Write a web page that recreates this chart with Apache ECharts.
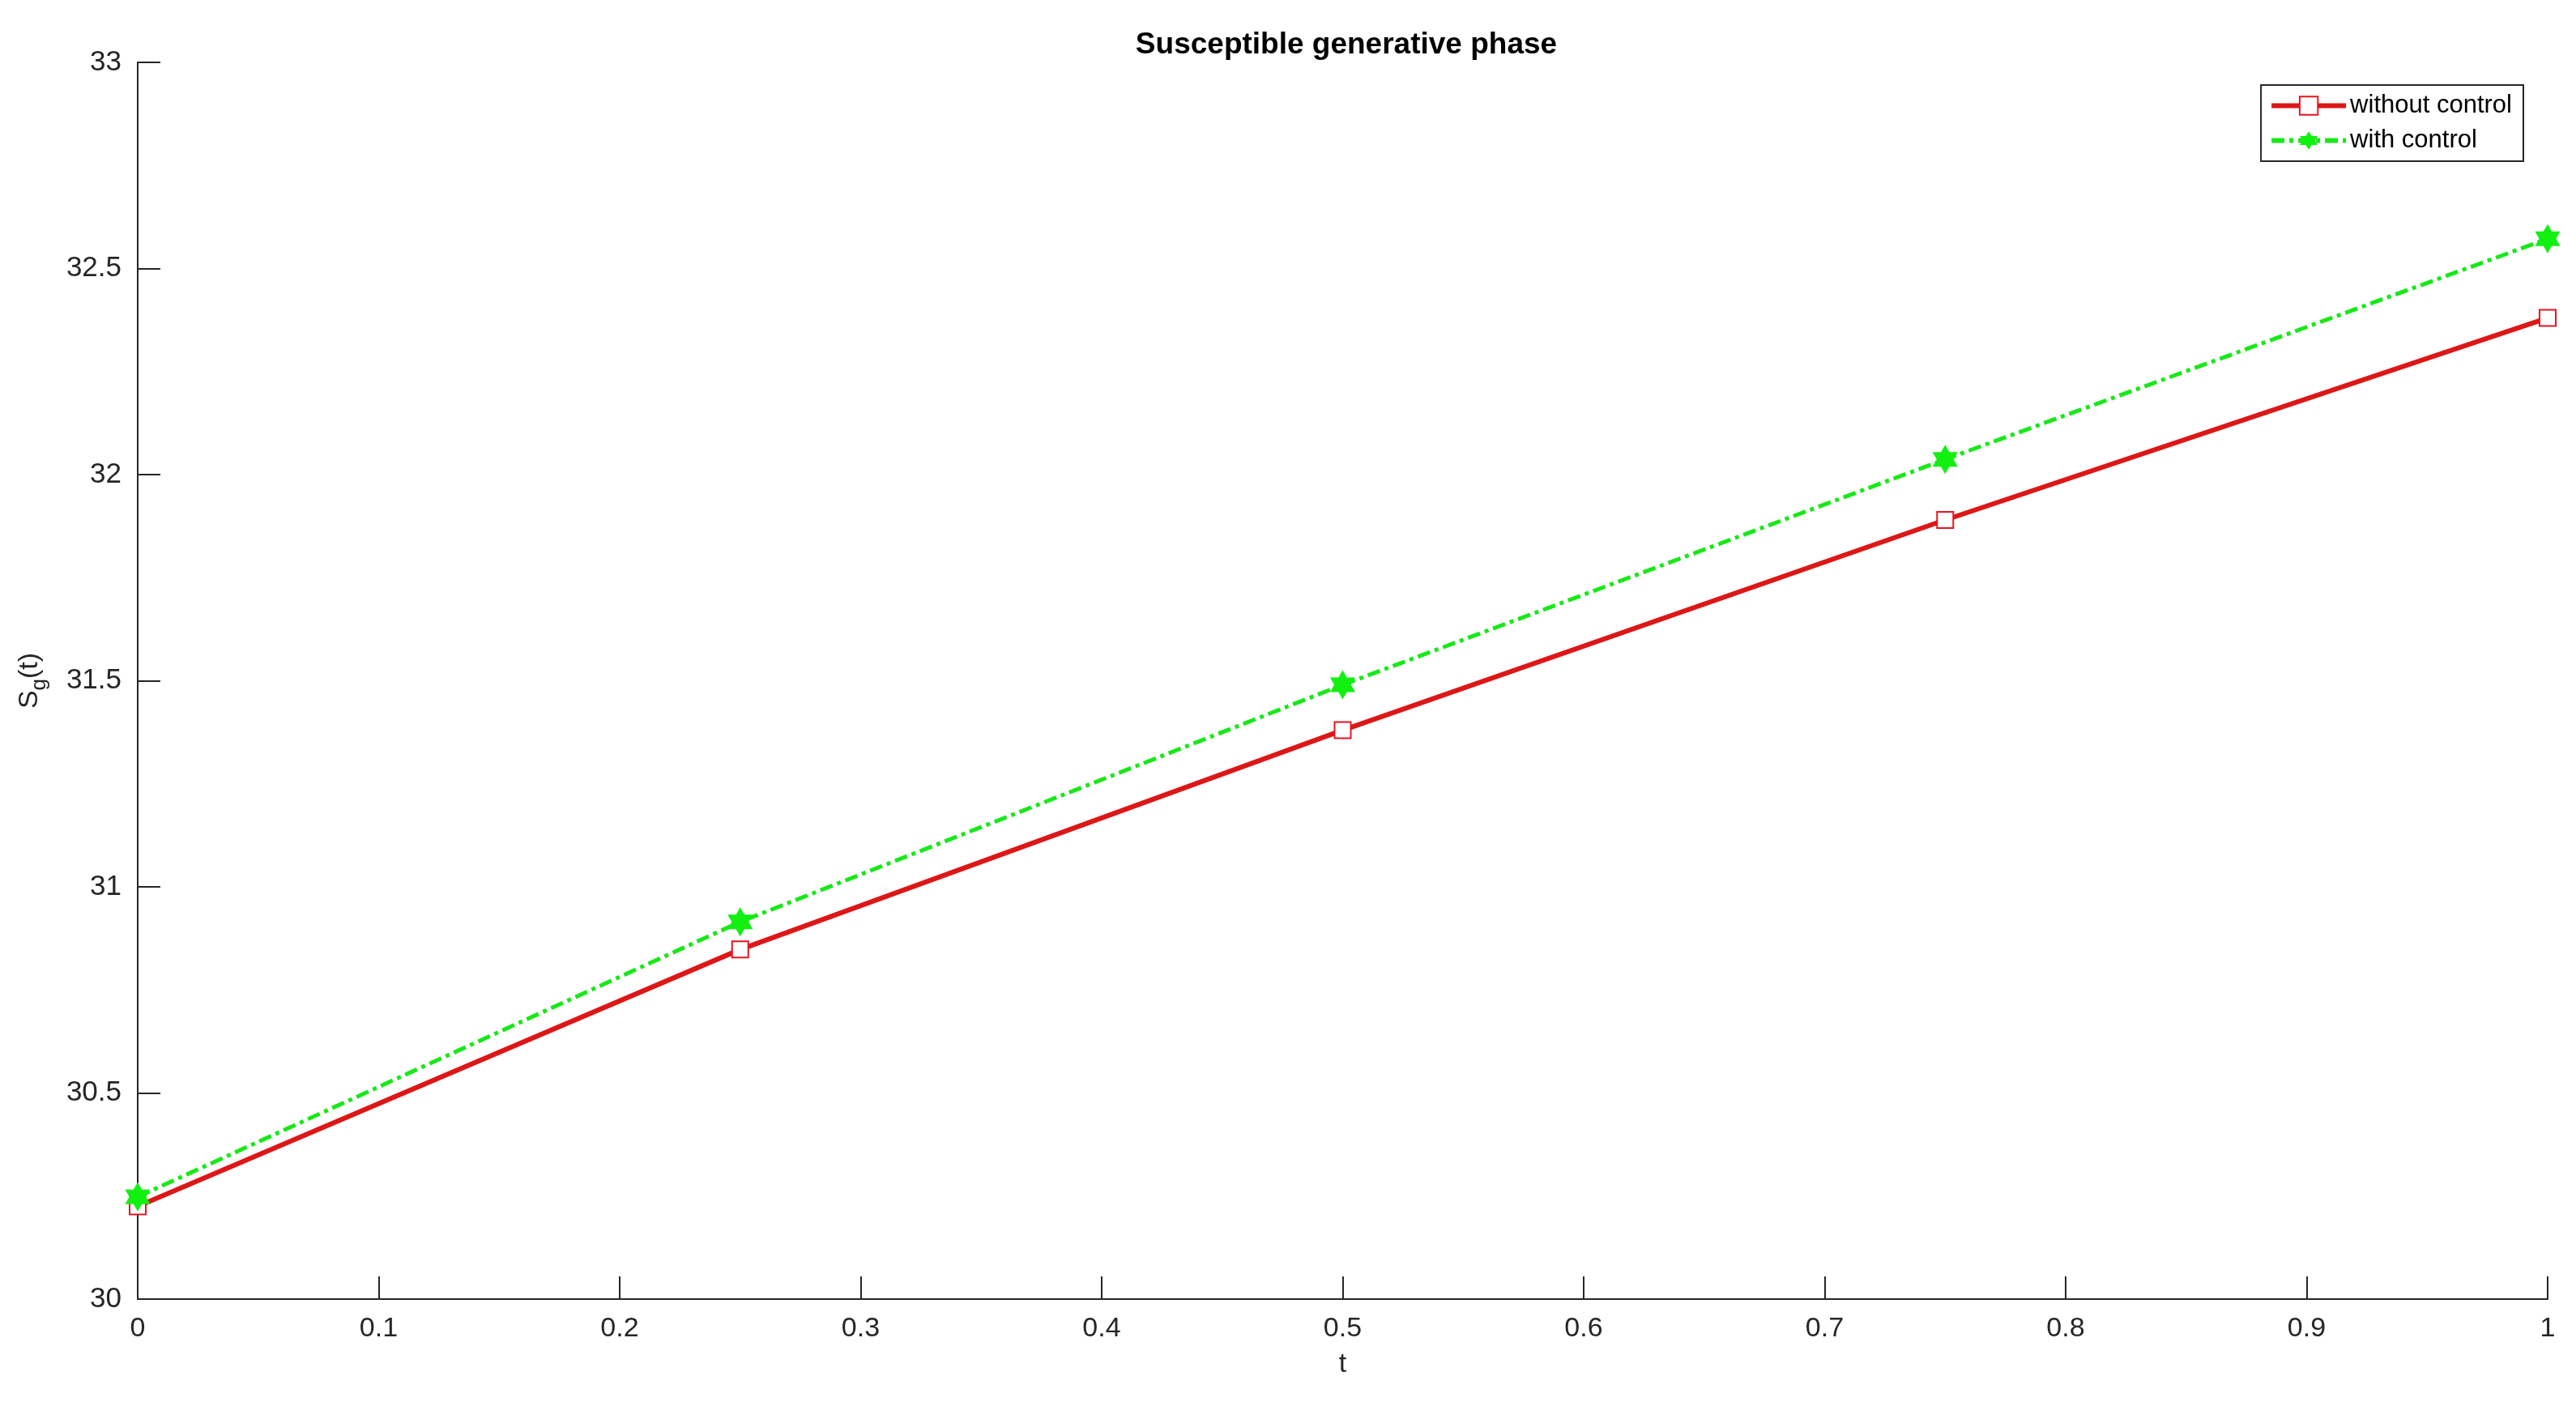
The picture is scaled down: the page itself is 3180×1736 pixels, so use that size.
<!DOCTYPE html>
<html>
<head>
<meta charset="utf-8">
<title>Susceptible generative phase</title>
<script src="https://cdn.jsdelivr.net/npm/echarts@6/dist/echarts.min.js"></script>
<style>
	html, body { margin: 0; padding: 0; background: #fff; }
	#chart { width: 3180px; height: 1736px; }
</style>
</head>
<body>
<div id="chart"></div>
<script>
// time points
var tValues = [0, 0.25, 0.5, 0.75, 1];
// S_g(t) without control
var withoutControl = [30.225, 30.848, 31.38, 31.89, 32.38];
// S_g(t) with control
var withControl = [30.248, 30.915, 31.49, 32.037, 32.572];
var seriesNames = ['without control', 'with control'];

var hexagram = 'path://M0,-100L28.87,-50L86.6,-50L57.7,0L86.6,50L28.87,50L0,100L-28.87,50L-86.6,50L-57.7,0L-86.6,-50L-28.87,-50Z';
var fontName = '"Liberation Sans", Arial, Helvetica, sans-serif';

function pairs(xs, ys) {
	var out = [];
	for (var i = 0; i < xs.length; i++) {
		out.push([xs[i], ys[i]]);
	}
	return out;
}

var chart = echarts.init(document.getElementById('chart'));
var option = {
	animation: false,
	backgroundColor: '#fff',
	title: {
		text: 'Susceptible generative phase',
		left: 1657,
		textAlign: 'center',
		top: 32,
		textStyle: {
			fontFamily: fontName,
			fontSize: 37,
			fontWeight: 'bold',
			color: '#000'
		}
	},
	legend: {
		data: seriesNames,
		orient: 'vertical',
		right: 65,
		top: 105,
		padding: [10, 14, 10, 10],
		itemGap: 12,
		itemWidth: 92,
		itemHeight: 28,
		borderColor: '#262626',
		borderWidth: 2,
		backgroundColor: '#fff',
		lineStyle: { width: 6 },
		textStyle: {
			fontFamily: fontName,
			fontSize: 31,
			color: '#000',
			padding: [0, 0, 0, 0]
		}
	},
	grid: {
		left: 170,
		right: 35,
		top: 77,
		bottom: 132
	},
	xAxis: {
		type: 'value',
		min: 0,
		max: 1,
		interval: 0.1,
		name: 't',
		nameLocation: 'middle',
		nameGap: 64,
		nameTextStyle: {
			fontFamily: fontName,
			fontSize: 34,
			color: '#262626'
		},
		axisLine: { lineStyle: { color: '#262626', width: 2 } },
		axisTick: { inside: true, length: 28, lineStyle: { color: '#262626', width: 2 } },
		axisLabel: {
			margin: 20,
			fontFamily: fontName,
			fontSize: 34,
			color: '#262626'
		},
		splitLine: { show: false }
	},
	yAxis: {
		type: 'value',
		min: 30,
		max: 33,
		interval: 0.5,
		name: '{s|S}{sub|g}{s|(t)}',
		nameLocation: 'middle',
		nameRotate: 90,
		nameGap: 108,
		nameTextStyle: {
			fontFamily: fontName,
			color: '#262626',
			rich: {
				s: { fontFamily: fontName, fontSize: 34, color: '#262626' },
				sub: { fontFamily: fontName, fontSize: 26, color: '#262626', padding: [24, 0, 0, 0] }
			}
		},
		axisLine: { show: true, lineStyle: { color: '#262626', width: 2 } },
		axisTick: { show: true, inside: true, length: 28, lineStyle: { color: '#262626', width: 2 } },
		axisLabel: {
			margin: 20,
			fontFamily: fontName,
			fontSize: 35,
			color: '#262626'
		},
		splitLine: { show: false }
	},
	series: [
		{
			name: seriesNames[0],
			type: 'line',
			data: pairs(tValues, withoutControl),
			symbol: 'emptyRect',
			symbolSize: 20,
			lineStyle: { color: '#dd1717', width: 6 },
			itemStyle: { color: '#e8141e', borderWidth: 3 },
			z: 2
		},
		{
			name: seriesNames[1],
			type: 'line',
			data: pairs(tValues, withControl),
			symbol: hexagram,
			symbolKeepAspect: true,
			symbolSize: 36,
			lineStyle: { color: '#18e818', width: 5, type: [16, 6, 5, 6] },
			itemStyle: { color: '#12f012' },
			z: 3
		}
	]
};
chart.setOption(option);
window.addEventListener('resize', chart.resize);
</script>
</body>
</html>
